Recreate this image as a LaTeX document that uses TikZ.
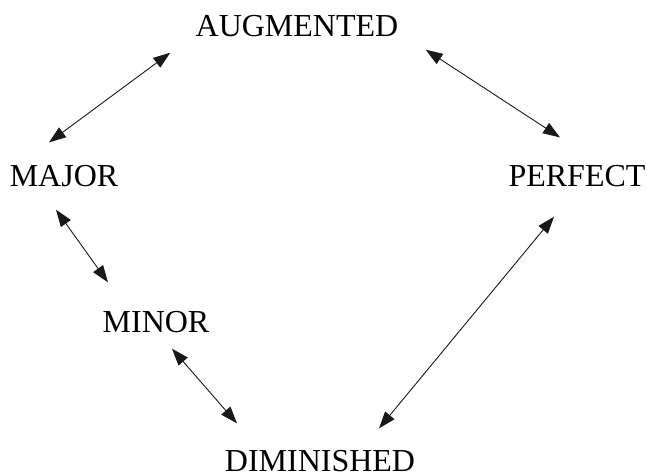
\documentclass[tikz,border=0pt]{standalone}
\usepackage{fontspec}
\setmainfont{Liberation Serif}
\usetikzlibrary{arrows.meta, calc}

\begin{document}
\begin{tikzpicture}[
        x=0.5pt, y=-0.5pt,
        lbl/.style={inner sep=0pt, anchor=base, font=\fontsize{16}{19}\selectfont},
        arr/.style={{Triangle[length=8.5pt, width=6pt]}-{Triangle[length=8.5pt, width=6pt]}, line width=0.45pt, black!90}
      ]
        \useasboundingbox (0,0) rectangle (647,475);
        \node[lbl] (aug) at (297,37) {AUGMENTED};
        \node[lbl] (maj) at (64,187) {MAJOR};
        \node[lbl] (perf) at (577,187) {PERFECT};
        \node[lbl] (min) at (156,333) {MINOR};
        \node[lbl] (dim) at (320,471) {DIMINISHED};

        \draw[arr] ($(aug.south west)+(-25,15)$) -- ($(maj.north)+(-15,-23)$);
        \draw[arr] ($(aug.south east)+(27,12)$) -- ($(perf.north)+(-17,-28)$);
        \draw[arr] ($(maj.south)+(-8,22)$) -- ($(min.north)+(-48,-29)$);
        \draw[arr] ($(min.south)+(16,15)$) -- ($(dim.north)+(-83,-26)$);
        \draw[arr] ($(perf.south)+(-23,29)$) -- ($(dim.north)+(59,-21)$);
      \end{tikzpicture}
\end{document}
